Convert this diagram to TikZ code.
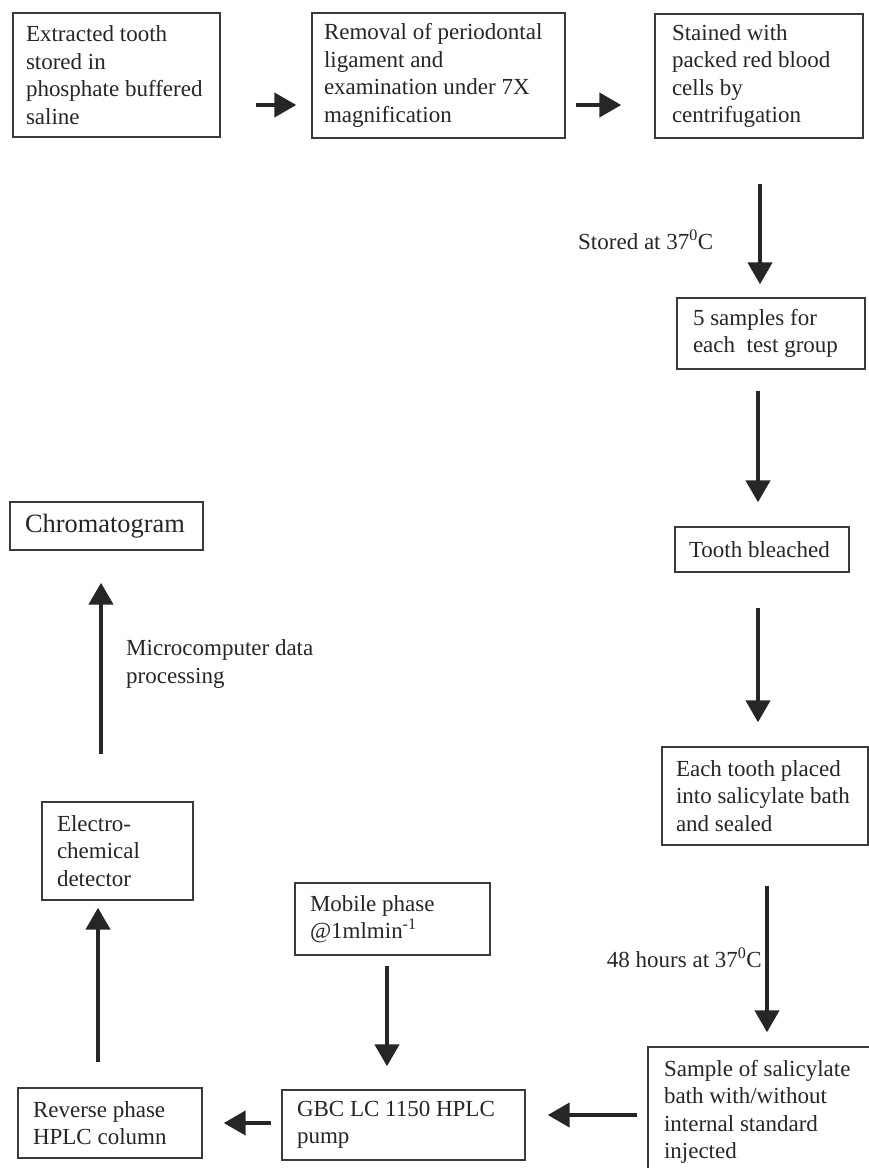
\documentclass[tikz,border=0pt]{standalone}
\usepackage{fontspec}
\setmainfont{Liberation Serif}
\usetikzlibrary{arrows.meta,positioning,calc}
\definecolor{cA}{HTML}{262626}
\definecolor{cB}{HTML}{3a3a3a}
\tikzset{
  box/.style={draw=cB,line width=1.4pt,fill=white,align=flush left,text=cA,
              font=\fontsize{23}{27.5}\selectfont},
  lbl/.style={inner sep=0pt,align=flush left,text=cA,
              font=\fontsize{23}{27.5}\selectfont},
  flow/.style={-{Triangle[length=22pt,width=24pt]},line width=4.5pt,cA},
}
\begin{document}
\begin{tikzpicture}[x=1pt,y=-1pt]
  \useasboundingbox (0,0) rectangle (869,1168);
  \node[box,text width=181pt,inner xsep=13pt,minimum height=124pt] (tooth) at (116.5,75) {Extracted tooth\\stored in\\phosphate buffered\\saline};
  \node[box,text width=229pt,inner xsep=12pt,minimum height=125pt] (removal) at (438.5,75.5) {Removal of periodontal\\ligament and\\examination under 7X\\magnification};
  \node[box,text width=174pt,inner xsep=17pt,minimum height=124pt] (stained) at (759,76) {Stained with\\packed red blood\\cells by\\centrifugation};
  \node[box,text width=156pt,inner xsep=16pt,minimum height=71pt] (samples) at (771,333.5) {5 samples for\\each\ \ test group};
  \node[box,text width=146pt,inner xsep=14pt,minimum height=45pt] (bleached) at (762,549.5) {Tooth bleached};
  \node[box,text width=178pt,inner xsep=14pt,minimum height=98pt] (bath) at (765,796) {Each tooth placed\\into salicylate bath\\and sealed};
  \node[box,text width=192pt,inner xsep=16pt,minimum height=130pt] (inject) at (760,1112) {Sample of salicylate\\bath with/without\\internal standard\\injected};
  \node[box,text width=213pt,inner xsep=15pt,minimum height=70pt] (pump) at (403.5,1125) {GBC LC 1150 HPLC\\pump};
  \node[box,text width=154pt,inner xsep=15pt,minimum height=70pt] (column) at (110,1123) {Reverse phase\\HPLC column};
  \node[box,text width=121pt,inner xsep=15pt,minimum height=98pt] (detector) at (117.5,851) {Electro-\\chemical\\detector};
  \node[box,text width=163pt,inner xsep=15pt,minimum height=48pt,font=\fontsize{26.4}{30}\selectfont] (chrom) at (106.5,526) {Chromatogram};
  \node[box,text width=165pt,inner xsep=15pt,minimum height=72pt] (mobile) at (392.5,919) {Mobile phase\\@1mlmin\textsuperscript{-1}};
  \node[lbl,anchor=west] (stored) at (578,240) {Stored at 37\textsuperscript{0}C};
  \node[lbl,anchor=east] (hours) at (762,958) {48 hours at 37\textsuperscript{0}C};
  \node[lbl,anchor=west] (micro) at (126,664) {Microcomputer data\\processing};
  \draw[flow,shorten <=35pt,shorten >=15pt] ($(tooth.east)+(0,30)$) -- ($(removal.west)+(0,29.5)$);
  \draw[flow,shorten <=10pt,shorten >=33pt] ($(removal.east)+(0,29.5)$) -- ($(stained.west)+(0,29)$);
  \draw[flow,shorten <=45pt,shorten >=13pt] ($(stained.south)+(1,0)$) -- ($(samples.north)+(-11,0)$);
  \draw[flow,shorten <=21pt,shorten >=24pt] ($(samples.south)+(-13,0)$) -- ($(bleached.north)+(-4,0)$);
  \draw[flow,shorten <=35pt,shorten >=24pt] ($(bleached.south)+(-4,0)$) -- ($(bath.north)+(-7,0)$);
  \draw[flow,shorten <=40pt,shorten >=14pt] ($(bath.south)+(2,0)$) -- ($(inject.north)+(7,0)$);
  \draw[flow,shorten <=10pt,shorten >=22pt] ($(inject.west)+(0,3)$) -- ($(pump.east)+(0,-10)$);
  \draw[flow,shorten <=10pt,shorten >=21pt] ($(pump.west)+(0,-2)$) -- (column.east);
  \draw[flow,shorten <=25pt,shorten >=7pt] ($(column.north)+(-12,0)$) -- ($(detector.south)+(-19.5,0)$);
  \draw[flow,shorten <=47pt,shorten >=32pt] ($(detector.north)+(-16.5,0)$) -- ($(chrom.south)+(-5.5,0)$);
  \draw[flow,shorten <=10pt,shorten >=23pt] ($(mobile.south)+(-5.5,0)$) -- ($(pump.north)+(-16.5,0)$);
\end{tikzpicture}
\end{document}
